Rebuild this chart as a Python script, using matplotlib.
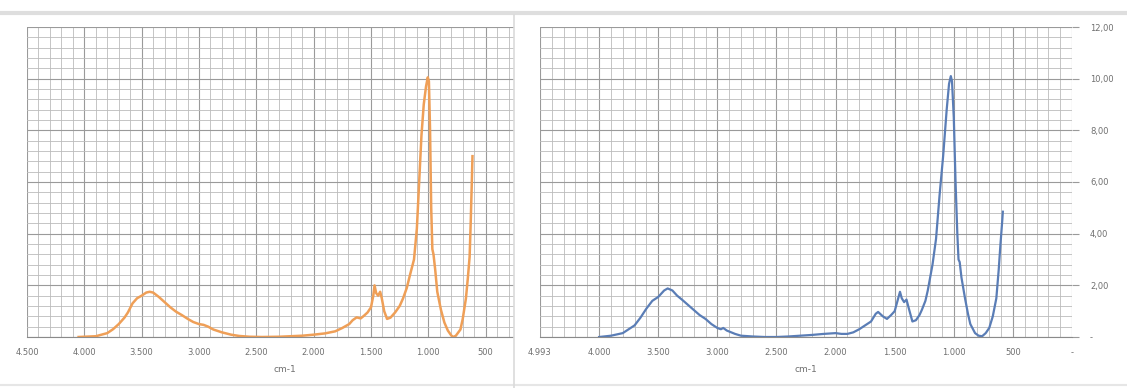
import matplotlib
matplotlib.use("Agg")
import matplotlib.pyplot as plt
from matplotlib.patches import Rectangle
from matplotlib.lines import Line2D
from matplotlib.ticker import MultipleLocator

# orange spectrum (left chart) - wavenumber cm-1 / value
wn_orange = [4050, 3900, 3800, 3750, 3700, 3650, 3620, 3580, 3540, 3500, 3460, 3430, 3400,
             3350, 3300, 3250, 3200, 3150, 3094, 3050, 3000, 2960, 2920, 2875, 2800, 2720,
             2650, 2560, 2450, 2300, 2200, 2100, 2000, 1900, 1812, 1750, 1690, 1660, 1625,
             1590, 1562, 1530, 1500, 1480, 1469, 1455, 1438, 1420, 1406, 1385, 1360, 1330,
             1290, 1250, 1220, 1188, 1160, 1125, 1100, 1080, 1060, 1040, 1020, 1005, 995,
             985, 975, 965, 955, 940, 922, 890, 860, 830, 800, 782, 760, 720, 700, 672, 655,
             640, 630, 622, 615]
val_orange = [0.0, 0.03, 0.15, 0.3, 0.5, 0.75, 0.95, 1.3, 1.5, 1.6, 1.72, 1.75, 1.72,
              1.55, 1.35, 1.15, 0.98, 0.85, 0.69, 0.58, 0.5, 0.47, 0.4, 0.29, 0.18, 0.09,
              0.04, 0.01, 0.0, 0.01, 0.03, 0.05, 0.09, 0.14, 0.22, 0.35, 0.5, 0.65, 0.76,
              0.72, 0.82, 0.95, 1.15, 1.6, 2.0, 1.7, 1.6, 1.75, 1.5, 1.0, 0.7, 0.75,
              0.95, 1.2, 1.5, 1.9, 2.4, 3.0, 4.2, 6.0, 7.8, 9.0, 9.7, 10.05, 9.9,
              8.0, 5.0, 3.4, 3.2, 2.6, 1.75, 1.05, 0.56, 0.25, 0.06, 0.0, 0.05, 0.29, 0.7, 1.5, 2.3,
              3.1, 4.5, 5.8, 7.0]

# blue spectrum (right chart)
wn_blue = [4000, 3900, 3800, 3700, 3650, 3600, 3550, 3500, 3450, 3420, 3380, 3340, 3300,
           3250, 3200, 3150, 3100, 3050, 3000, 2970, 2950, 2920, 2850, 2800, 2700, 2600,
           2500, 2400, 2300, 2200, 2100, 2000, 1950, 1900, 1850, 1800, 1750, 1700, 1660,
           1640, 1600, 1565, 1530, 1500, 1470, 1455, 1440, 1420, 1400, 1380, 1350, 1320,
           1290, 1270, 1240, 1220, 1180, 1150, 1120, 1090, 1060, 1040, 1025, 1015, 1000,
           985, 970, 960, 950, 935, 905, 880, 860, 820, 790, 760, 730, 700, 670, 640, 620,
           605, 590, 585]
val_blue = [0.0, 0.05, 0.15, 0.45, 0.75, 1.1, 1.4, 1.55, 1.8, 1.88, 1.8, 1.6, 1.45,
            1.25, 1.05, 0.85, 0.7, 0.5, 0.35, 0.3, 0.35, 0.25, 0.12, 0.05, 0.02, 0.0,
            0.0, 0.02, 0.05, 0.08, 0.12, 0.15, 0.12, 0.12, 0.18, 0.3, 0.45, 0.6, 0.9,
            0.97, 0.8, 0.7, 0.85, 1.0, 1.5, 1.75, 1.5, 1.35, 1.45, 1.1, 0.6, 0.65,
            0.85, 1.05, 1.4, 1.8, 2.8, 3.8, 5.5, 7.0, 8.8, 9.8, 10.1, 9.9, 8.5,
            6.0, 4.0, 3.0, 2.9, 2.3, 1.5, 0.9, 0.5, 0.15, 0.05, 0.03, 0.15, 0.35, 0.8, 1.5, 2.6,
            3.6, 4.5, 4.85]

x_ticks = [4500, 4000, 3500, 3000, 2500, 2000, 1500, 1000, 500, 0]
x_labels_left = ['4.500', '4.000', '3.500', '3.000', '2.500', '2.000', '1.500', '1.000', '500', '']
x_labels_right = ['4.993', '4.000', '3.500', '3.000', '2.500', '2.000', '1.500', '1.000', '500', '-']
y_ticks = [0, 2, 4, 6, 8, 10, 12]
y_labels = ['-', '2,00', '4,00', '6,00', '8,00', '10,00', '12,00']

W, H = 1127, 388
fig = plt.figure(figsize=(W / 100, H / 100), dpi=100)
fig.patch.set_facecolor('white')

txt = '#6f6f6f'


def setup(ax):
    ax.set_xlim(4500, 0)
    ax.set_ylim(0, 12)
    ax.xaxis.set_major_locator(MultipleLocator(500))
    ax.xaxis.set_minor_locator(MultipleLocator(100))
    ax.yaxis.set_major_locator(MultipleLocator(2))
    ax.yaxis.set_minor_locator(MultipleLocator(0.4))
    ax.grid(which='major', color='#9a9a9a', lw=0.8)
    ax.grid(which='minor', color='#bcbcbc', lw=0.6)
    ax.set_axisbelow(True)
    for s in ['top', 'left', 'right']:
        ax.spines[s].set_visible(False)
    ax.spines['bottom'].set_color('#8a8a8a')
    ax.tick_params(which='minor', length=0)
    ax.tick_params(axis='x', which='major', length=0, pad=8, labelsize=6, labelcolor=txt)
    ax.set_xlabel('cm-1', fontsize=6.5, color=txt, labelpad=6)


# left chart (its right end is hidden behind the right chart)
ax1 = fig.add_axes([27 / W, 51 / H, (543 - 27) / W, 310 / H])
ax1.plot(wn_orange, val_orange, color='#ef9f57', lw=1.8)
setup(ax1)
ax1.set_xticks(x_ticks, x_labels_left)
ax1.set_yticks(y_ticks, [])
ax1.tick_params(axis='y', length=0)

# white cover over the right part
fig.add_artist(Rectangle((514 / W, 0), 1 - 514 / W, 1, transform=fig.transFigure,
                         facecolor='white', edgecolor='none', zorder=1))

# right chart
ax2 = fig.add_axes([540 / W, 51 / H, (1072 - 540) / W, 310 / H])
ax2.set_zorder(2)
ax2.plot(wn_blue, val_blue, color='#5a7db6', lw=1.6)
setup(ax2)
ax2.set_xticks(x_ticks, x_labels_right)
ax2.set_yticks(y_ticks, y_labels)
ax2.yaxis.tick_right()
ax2.tick_params(axis='y', which='major', length=5, color='#9a9a9a', pad=8,
                labelsize=6, labelcolor=txt)

# window borders of the screenshot
fig.add_artist(Line2D([0, 1], [1 - 13 / H, 1 - 13 / H], transform=fig.transFigure,
                      color='#dedede', lw=3, zorder=3))
fig.add_artist(Line2D([0, 1], [3 / H, 3 / H], transform=fig.transFigure,
                      color='#e6e6e6', lw=1.5, zorder=3))
fig.add_artist(Line2D([514 / W, 514 / W], [0, 1 - 15 / H], transform=fig.transFigure,
                      color='#dadada', lw=1.2, zorder=3))

fig.savefig('out.png', dpi=100)
